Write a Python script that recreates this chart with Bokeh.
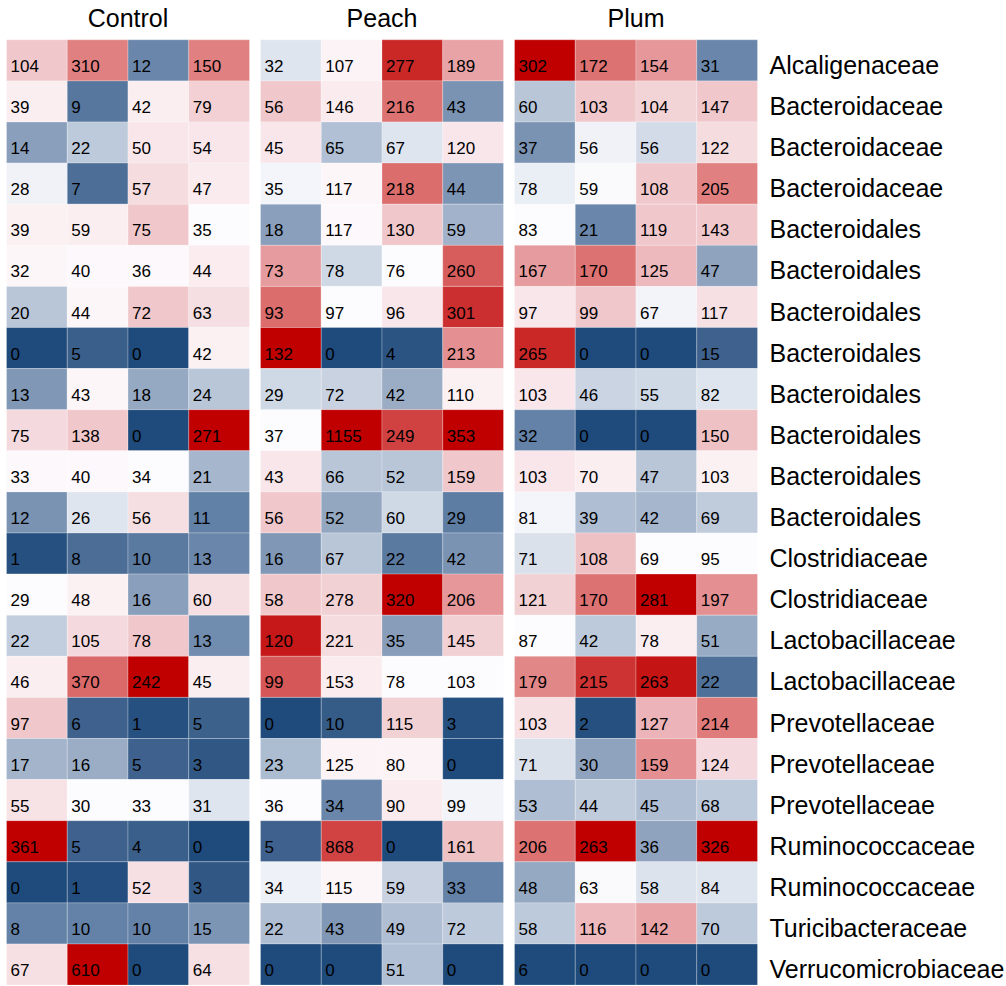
from bokeh.plotting import figure
from bokeh.models import ColumnDataSource, LinearColorMapper, Range1d
from bokeh.core.properties import value
from bokeh.embed import file_html
from bokeh.resources import INLINE

groups = ["Control", "Peach", "Plum"]
taxa = ["Alcaligenaceae", "Bacteroidaceae", "Bacteroidaceae", "Bacteroidaceae",
        "Bacteroidales", "Bacteroidales", "Bacteroidales", "Bacteroidales",
        "Bacteroidales", "Bacteroidales", "Bacteroidales", "Bacteroidales",
        "Clostridiaceae", "Clostridiaceae", "Lactobacillaceae", "Lactobacillaceae",
        "Prevotellaceae", "Prevotellaceae", "Prevotellaceae", "Ruminococcaceae",
        "Ruminococcaceae", "Turicibacteraceae", "Verrucomicrobiaceae"]

# counts shown in cells (rows = taxa, 4 samples per group)
counts_control = [[104, 310, 12, 150], [39, 9, 42, 79], [14, 22, 50, 54], [28, 7, 57, 47],
                  [39, 59, 75, 35], [32, 40, 36, 44], [20, 44, 72, 63], [0, 5, 0, 42],
                  [13, 43, 18, 24], [75, 138, 0, 271], [33, 40, 34, 21], [12, 26, 56, 11],
                  [1, 8, 10, 13], [29, 48, 16, 60], [22, 105, 78, 13], [46, 370, 242, 45],
                  [97, 6, 1, 5], [17, 16, 5, 3], [55, 30, 33, 31], [361, 5, 4, 0],
                  [0, 1, 52, 3], [8, 10, 10, 15], [67, 610, 0, 64]]
counts_peach = [[32, 107, 277, 189], [56, 146, 216, 43], [45, 65, 67, 120], [35, 117, 218, 44],
                [18, 117, 130, 59], [73, 78, 76, 260], [93, 97, 96, 301], [132, 0, 4, 213],
                [29, 72, 42, 110], [37, 1155, 249, 353], [43, 66, 52, 159], [56, 52, 60, 29],
                [16, 67, 22, 42], [58, 278, 320, 206], [120, 221, 35, 145], [99, 153, 78, 103],
                [0, 10, 115, 3], [23, 125, 80, 0], [36, 34, 90, 99], [5, 868, 0, 161],
                [34, 115, 59, 33], [22, 43, 49, 72], [0, 0, 51, 0]]
counts_plum = [[302, 172, 154, 31], [60, 103, 104, 147], [37, 56, 56, 122], [78, 59, 108, 205],
               [83, 21, 119, 143], [167, 170, 125, 47], [97, 99, 67, 117], [265, 0, 0, 15],
               [103, 46, 55, 82], [32, 0, 0, 150], [103, 70, 47, 103], [81, 39, 42, 69],
               [71, 108, 69, 95], [121, 170, 281, 197], [87, 42, 78, 51], [179, 215, 263, 22],
               [103, 2, 127, 214], [71, 30, 159, 124], [53, 44, 45, 68], [206, 263, 36, 326],
               [48, 63, 58, 84], [58, 116, 142, 70], [6, 0, 0, 0]]

# colour scores (row-scaled abundance, -10 blue .. +10 red)
score_control = [[3, 6, -6, 6], [0.5, -7, 0.5, 2.5], [-5, -2.8, 1, 1], [-0.6, -7.5, 1.7, 0.7],
                 [0.4, 0.5, 3, 0], [0.2, 0.1, 0.1, 0.6], [-3, 0.2, 3, 1.5], [-10, -8.5, -10, 0.4],
                 [-5.3, 0.2, -4.5, -3], [1.8, 3, -10, 10], [0.1, 0.1, 0, -3.8], [-5.5, -1.5, 1.5, -6.4],
                 [-9.6, -7.6, -6.8, -6], [0, 0.4, -5, 1.5], [-2.6, 1.8, 3, -5.8], [0.5, 6.8, 10, 0.5],
                 [3, -8.3, -9.6, -8.4], [-3.9, -4.3, -8.3, -9], [1.2, 0, 0, -1.5], [10, -8.3, -8.5, -10],
                 [-10, -9.7, 1.4, -9], [-6.3, -6.3, -6.3, -5.4], [1.4, 10, -10, 1.4]]
score_peach = [[-1.5, 0.3, 9, 4.5], [3, 0.7, 6.5, -5.5], [1, -3.3, -1.5, 1], [-0.4, 0.2, 6.7, -5.4],
               [-5, 0.1, 3, -4], [4.8, -2.1, 0, 7.3], [6.7, 0, 1, 8.8], [10, -10, -9.3, 5.3],
               [-2.1, -2.4, -4.3, 0.4], [0, 10, 8.3, 10], [1, -3, -3, 3], [3, -4.6, -2.1, -6.6],
               [-5.3, -3, -6.8, -5.5], [3, 2.4, 10, 5], [9.4, 1.7, -5.1, 2.4], [7.5, 0.6, 0, 0],
               [-10, -8.8, 2.4, -9.6], [-3.5, 0.3, 0.3, -10], [0, -6, 0.7, -0.5], [-8.3, 8.2, -10, 3.3],
               [-0.7, 0.2, -2.4, -6.3], [-3.4, -5.3, -3.4, -2.8], [-10, -10, -3.3, -10]]
score_plum = [[10, 6.5, 5, -6], [-3, 3, 2.3, 3], [-5.5, -0.6, -2, 1.7], [-0.9, -0.1, 3, 6],
              [0, -6, 3, 3], [4.8, 6.5, 3.6, -4.8], [1, 3, -0.5, 1.4], [9, -10, -10, -8.3],
              [1, -2.3, -2.1, -1.5], [-6.3, -10, -10, 3.3], [1, 0.5, -3, 0.4], [-0.4, -3.4, -3.8, -2.7],
              [-1.7, 3.3, 0, 0], [2.4, 6.5, 10, 5.3], [0, -2.8, 0.5, -4.4], [5.7, 8.7, 9.5, -7.4],
              [1.4, -9.6, 3.8, 6.2], [-1.7, -4.8, 5.3, 1.8], [-3.4, -2.7, -3.4, -2.8], [6.5, 10, -4.8, 10],
              [-4.5, -0.1, -1.6, -1.5], [-2.8, 3.6, 4.5, -2.8], [-10, -10, -10, -10]]

# ---- palette (blue - white - red) ----
anchors = [(-10, "#1f4a7c"), (-8.5, "#3a5f8a"), (-6, "#6a87ab"), (-5, "#8a9fbb"),
           (-3, "#b8c6d8"), (-1.5, "#dfe5ee"), (-0.5, "#f2f4f9"), (0, "#fcfbfd"),
           (0.5, "#fbeef1"), (1.5, "#f5dfe2"), (3, "#f0c8cc"), (4.5, "#e8a3a6"),
           (6, "#e08080"), (7, "#d96565"), (8.5, "#cf3b3b"), (10, "#c00000")]


def hex2rgb(h):
    return tuple(int(h[i:i + 2], 16) for i in (1, 3, 5))


palette = []
for k in range(201):
    v = -10 + k * 0.1
    for (a, ca), (b, cb) in zip(anchors[:-1], anchors[1:]):
        if a <= v <= b + 1e-9:
            t = (v - a) / (b - a)
            r1, r2 = hex2rgb(ca), hex2rgb(cb)
            rgb = tuple(round(r1[i] + t * (r2[i] - r1[i])) for i in range(3))
            palette.append("#%02x%02x%02x" % rgb)
            break
mapper = LinearColorMapper(palette=palette, low=-10, high=10)

# ---- layout (data units: one column = 1, one row = 1) ----
CELL_PX = 60.75
ROW_PX = 41.1
W, H = 1006, 986
LEFT_PX = 6.0
BOTTOM_PX = 1.4
gap = 11.0 / CELL_PX
nrows = len(taxa)
num_dy = 15.0 / ROW_PX      # text anchor above row bottom (numbers)
lab_dy = 16.0 / ROW_PX      # text anchor above row bottom (row labels)
pad_dx = 4.0 / CELL_PX      # left padding of numbers

xs, ys, lx, ly, labels, scores = [], [], [], [], [], []
all_counts = [counts_control, counts_peach, counts_plum]
all_scores = [score_control, score_peach, score_plum]
for g in range(len(groups)):
    x0 = g * (4 + gap)
    for i in range(nrows):
        for j in range(4):
            xs.append(x0 + j + 0.5)
            ys.append(nrows - 1 - i + 0.5)
            lx.append(x0 + j + pad_dx)
            ly.append(nrows - 1 - i + num_dy)
            labels.append(str(all_counts[g][i][j]))
            scores.append(all_scores[g][i][j])

src = ColumnDataSource(dict(x=xs, y=ys, lx=lx, ly=ly, label=labels, score=scores))

x_start = -LEFT_PX / CELL_PX
y_start = -BOTTOM_PX / ROW_PX
p = figure(width=W, height=H,
           x_range=Range1d(x_start, x_start + W / CELL_PX),
           y_range=Range1d(y_start, y_start + H / ROW_PX),
           output_backend="svg", toolbar_location=None, x_axis_location=None,
           y_axis_location=None, min_border=0, outline_line_color=None,
           background_fill_color="white", border_fill_color="white")
p.xgrid.visible = False
p.ygrid.visible = False

p.rect(x="x", y="y", width=1, height=1, source=src,
       fill_color={"field": "score", "transform": mapper},
       line_color="white", line_alpha=0.25, line_width=1)

p.text(x="lx", y="ly", text="label", source=src,
       text_baseline="alphabetic", text_align="left", text_color="black",
       text_font=value("Liberation Sans"), text_font_size="17px")

# group titles
title_src = ColumnDataSource(dict(x=[g * (4 + gap) + 2 for g in range(len(groups))],
                                  y=[nrows + 21.5 / ROW_PX] * len(groups), t=groups))
p.text(x="x", y="y", text="t", source=title_src, text_align="center",
       text_baseline="alphabetic", text_color="black",
       text_font=value("Liberation Sans"), text_font_size="25px")

# row labels
right_edge = 2 * (4 + gap) + 4
lab_src = ColumnDataSource(dict(x=[right_edge + 12.0 / CELL_PX] * nrows,
                                y=[nrows - 1 - i + lab_dy for i in range(nrows)], t=taxa))
p.text(x="x", y="y", text="t", source=lab_src, text_align="left",
       text_baseline="alphabetic", text_color="black",
       text_font=value("Liberation Sans"), text_font_size="25px")

open("out.html", "w").write(file_html(p, INLINE))
